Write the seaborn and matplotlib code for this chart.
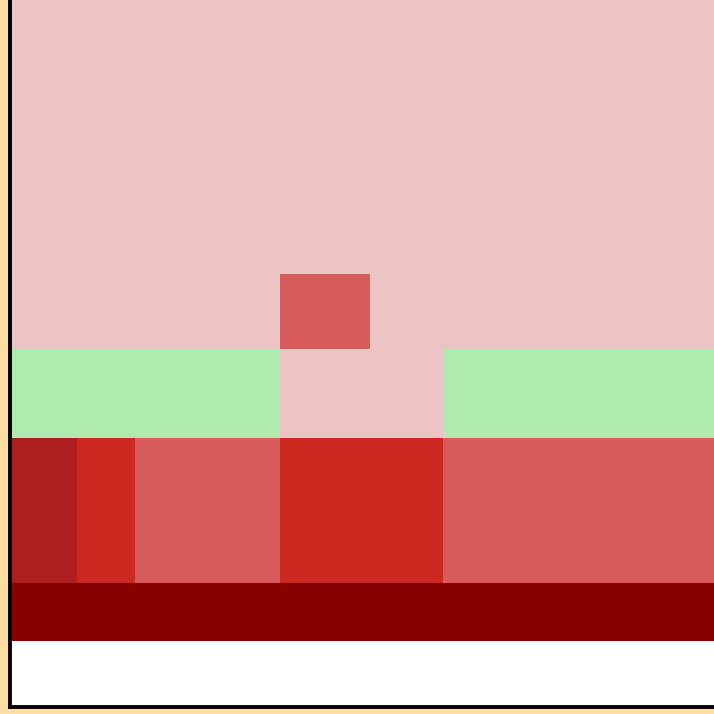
import numpy as np
import seaborn as sns
import matplotlib.pyplot as plt
from matplotlib.colors import ListedColormap

# -----------------------------
# datos: bordes de celdas y categoria de cada celda
# -----------------------------
x_edges = [0, 67, 125, 270, 360, 433, 706]
y_edges = [0, 274, 349, 438, 583, 641, 707]

# 0 rosa, 1 salmon, 2 rojo, 3 rojo oscuro, 4 granate, 5 verde, nan vacio
celdas = [
    [0, 0, 0, 0, 0, 0],
    [0, 0, 0, 1, 0, 0],
    [5, 5, 5, 0, 0, 5],
    [3, 2, 1, 2, 2, 1],
    [4, 4, 4, 4, 4, 4],
    [np.nan] * 6,
]
colores = ["#EBC4C3", "#D65B5A", "#CB2820", "#AE1E1E", "#880000", "#AFEBAF"]

sns.set_style("white")
fig = plt.figure(figsize=(7.14, 7.14), dpi=100, facecolor="#FFDEA6")
# el eje se sale un poco por arriba y por la derecha
ax = fig.add_axes([10 / 714, 7 / 714, 708 / 714, 708.5 / 714])

z = np.ma.masked_invalid(np.array(celdas, dtype=float))
cmap = ListedColormap(colores)
cmap.set_bad("white")
ax.pcolormesh(x_edges, y_edges, z, cmap=cmap, vmin=-0.5, vmax=5.5)
ax.set_xlim(0, 708)
ax.set_ylim(707, -1.5)
ax.set_xticks([])
ax.set_yticks([])
for lado in ["left", "bottom", "top", "right"]:
    ax.spines[lado].set_color("black")
    ax.spines[lado].set_linewidth(2.8)

fig.savefig("out.png", dpi=100, facecolor=fig.get_facecolor())
